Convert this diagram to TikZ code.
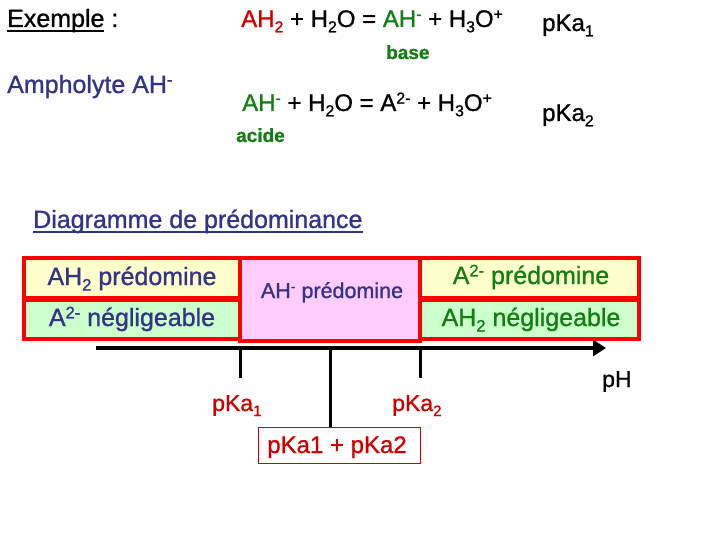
\documentclass[tikz,border=0pt]{standalone}
\usepackage{fontspec}
\setmainfont{Liberation Sans}[FakeBold=1]
\usetikzlibrary{arrows.meta}
\definecolor{dred}{RGB}{204,0,0}
\definecolor{dgreen}{RGB}{20,125,20}
\definecolor{dblue}{RGB}{51,51,136}
\definecolor{bred}{RGB}{255,0,0}
\definecolor{fyel}{RGB}{255,255,204}
\definecolor{fgrn}{RGB}{204,255,204}
\definecolor{fpnk}{RGB}{255,204,255}
\makeatletter
\newcommand\lo[1]{\raisebox{-0.22em}{\fontsize{\fpeval{0.66*\f@size}}{1}\selectfont #1}}
\newcommand\hi[1]{\raisebox{0.31em}{\fontsize{\fpeval{0.66*\f@size}}{1}\selectfont #1}}
\makeatother
\newsavebox\ulbox
\newcommand\ulin[1]{\sbox\ulbox{#1}\rlap{\rule[-0.2em]{\wd\ulbox}{0.09em}}\usebox\ulbox}
\tikzset{
  txt/.style={inner sep=0pt, anchor=base west},
  ctxt/.style={inner sep=0pt, anchor=base},
  fbig/.style={font=\fontsize{24}{28}\selectfont},
  fhuge/.style={font=\fontsize{25}{29}\selectfont},
  fmid/.style={font=\fontsize{21.5}{25}\selectfont},
  flab/.style={font=\fontsize{23}{27}\selectfont},
  fsmall/.style={font=\fontsize{19}{23}\selectfont\bfseries},
  zone/.style={draw=bred, line width=4pt, inner sep=0pt},
  tick/.style={line width=3pt},
}
\begin{document}
\begin{tikzpicture}[x=1pt,y=-1pt]
\useasboundingbox (0,0) rectangle (720,540);
% header
\node[txt,fhuge] (ex) at (7,27) {\ulin{Exemple} :};
\node[txt,fbig] (eq1) at (241,27) {\textcolor{dred}{AH\lo{2}} + H\lo{2}O = \textcolor{dgreen}{AH\hi{-}} + H\lo{3}O\hi{+}};
\node[txt,fbig] (pk1) at (542,31) {pKa\lo{1}};
\node[txt,fsmall,text=dgreen] (base) at (386,59) {base};
\node[txt,fhuge,text=dblue] (amph) at (7,93) {Ampholyte AH\hi{-}};
\node[txt,fbig] (eq2) at (242,111) {\textcolor{dgreen}{AH\hi{-}} + H\lo{2}O = A\hi{2-} + H\lo{3}O\hi{+}};
\node[txt,fbig] (pk2) at (542,121) {pKa\lo{2}};
\node[txt,fsmall,text=dgreen] (acide) at (236,142) {acide};
\node[txt,fhuge,text=dblue] (diag) at (33,228) {\ulin{Diagramme de prédominance}};
% zones
\node[zone,fill=fyel,minimum width=216pt,minimum height=40pt] (lt) at (132,278) {};
\node[zone,fill=fgrn,minimum width=216pt,minimum height=39pt] (lb) at (132,319.5) {};
\node[zone,fill=fyel,minimum width=219pt,minimum height=40pt] (rt) at (529.5,278) {};
\node[zone,fill=fgrn,minimum width=219pt,minimum height=39pt] (rb) at (529.5,319.5) {};
\node[zone,fill=fpnk,minimum width=180pt,minimum height=83pt] (mid) at (330,299.5) {};
\node[ctxt,fhuge,text=dblue] (ltt) at (132,285) {AH\lo{2} prédomine};
\node[ctxt,fhuge,text=dblue] (lbt) at (132,326) {A\hi{2-} négligeable};
\node[ctxt,fmid,text=dblue] (midt) at (332,298) {AH\hi{-} prédomine};
\node[ctxt,fhuge,text=dgreen] (rtt) at (531,284) {A\hi{2-} prédomine};
\node[ctxt,fhuge,text=dgreen] (rbt) at (531,326) {AH\lo{2} négligeable};
% axis
\coordinate (axs) at (96,348);
\coordinate (axe) at (606,348);
\draw[line width=4.5pt,-{Triangle[length=13pt,width=16pt]}] (axs) -- (axe);
\coordinate (t1) at (240,348);
\coordinate (t2) at (330,348);
\coordinate (t3) at (420,348);
\coordinate (t1e) at (240,378);
\coordinate (t3e) at (420,378);
\node[draw=dred,line width=1pt,minimum width=162pt,minimum height=36pt,inner sep=0pt] (sum) at (339,445) {};
\node[ctxt,fbig,text=dred] (sumt) at (337,453) {pKa1 + pKa2};
\draw[tick] (t1) -- (t1e);
\draw[tick] (t2) -- (t2 |- sum.north);
\draw[tick] (t3) -- (t3e);
\node[txt,flab,text=dred] (lk1) at (212,411) {pKa\lo{1}};
\node[txt,flab,text=dred] (lk2) at (392,411) {pKa\lo{2}};
\node[txt,flab] (ph) at (602,387) {pH};
\end{tikzpicture}
\end{document}
